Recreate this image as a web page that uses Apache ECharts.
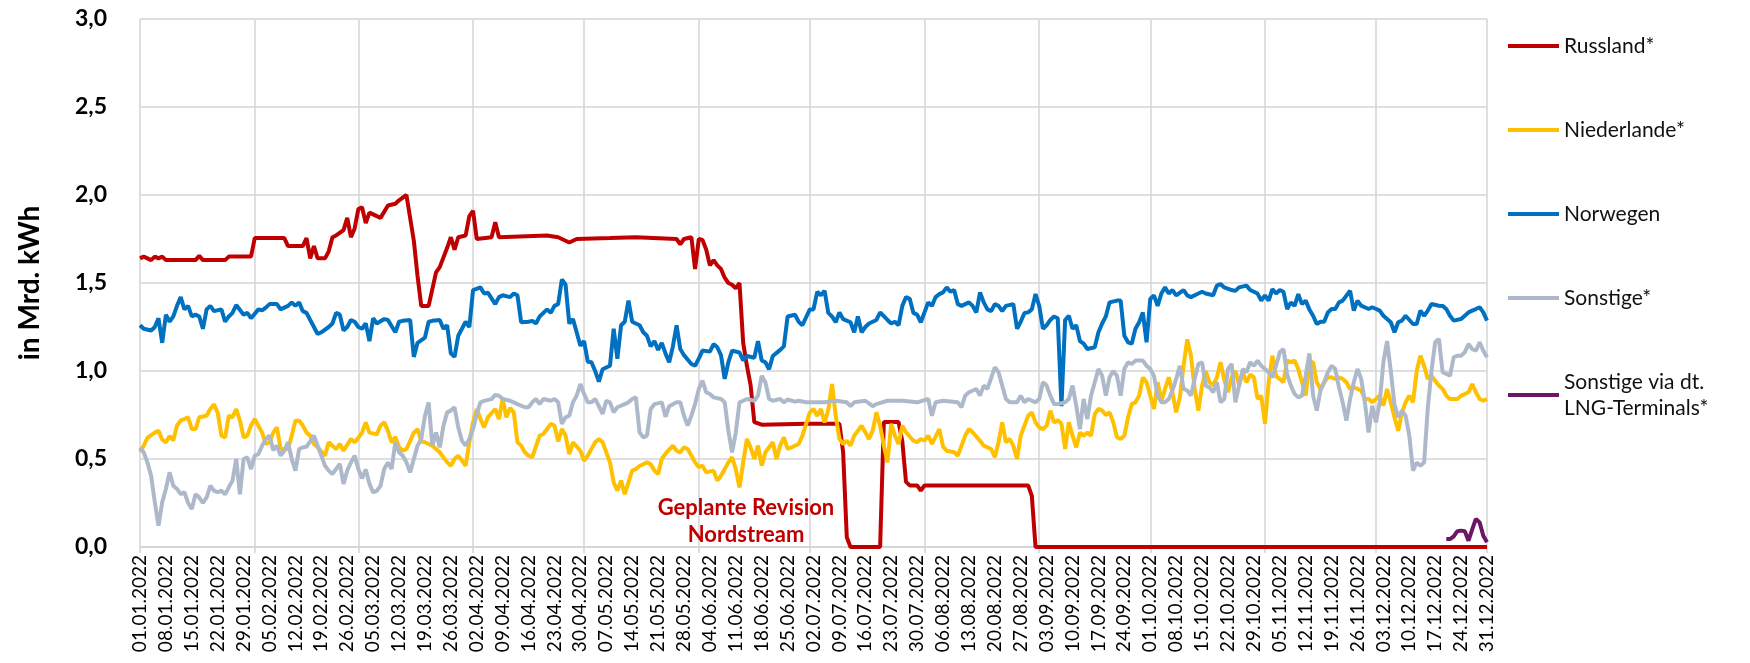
<!DOCTYPE html>
<html>
<head>
<meta charset="utf-8">
<script src="https://cdn.jsdelivr.net/npm/echarts@6/dist/echarts.min.js"></script>
<style>
  html, body { margin: 0; padding: 0; background: #fff; }
  #chart { width: 1750px; height: 663px; }
</style>
</head>
<body>
<div id="chart"></div>
<script>
// daily imports 2022, [dayIndex, value] in Mrd. kWh
var russland = [[0,1.64],[1,1.65],[3,1.63],[4,1.65],[5,1.64],[6,1.65],[7,1.63],[15,1.63],[16,1.655],[17,1.63],[23,1.63],[24,1.65],[30,1.65],[31,1.755],[39,1.755],[40,1.71],[44,1.71],[45,1.755],[46,1.64],[47,1.71],[48,1.64],[50,1.64],[51,1.68],[52,1.76],[53,1.77],[55,1.8],[56,1.87],[57,1.76],[58,1.81],[59,1.92],[60,1.93],[61,1.84],[62,1.9],[64,1.88],[65,1.87],[67,1.94],[69,1.95],[70,1.97],[72,2.0],[74,1.74],[75,1.54],[76,1.37],[78,1.37],[80,1.56],[81,1.59],[83,1.70],[84,1.76],[85,1.69],[86,1.76],[88,1.77],[89,1.88],[90,1.91],[91,1.75],[95,1.76],[96,1.845],[97,1.76],[110,1.77],[113,1.76],[116,1.73],[118,1.75],[127,1.755],[134,1.76],[145,1.75],[146,1.72],[147,1.75],[149,1.76],[150,1.58],[151,1.75],[152,1.745],[153,1.69],[154,1.60],[155,1.63],[156,1.60],[157,1.58],[158,1.53],[159,1.50],[160,1.49],[161,1.47],[162,1.50],[163,1.16],[164,1.03],[165,0.92],[166,0.71],[168,0.695],[180,0.70],[189,0.70],[190,0.54],[191,0.055],[192,0],[200,0],[201,0.71],[205,0.71],[206,0.60],[207,0.37],[208,0.35],[210,0.35],[211,0.32],[212,0.35],[240,0.35],[241,0.29],[242,0],[364,0]];

var niederlande = [[0,0.54],[1,0.575],[2,0.62],[3,0.635],[4,0.65],[5,0.66],[6,0.61],[7,0.595],[8,0.63],[9,0.605],[10,0.69],[11,0.72],[12,0.727],[13,0.737],[14,0.67],[15,0.67],[16,0.737],[18,0.746],[19,0.784],[20,0.81],[21,0.763],[22,0.633],[23,0.623],[24,0.746],[25,0.737],[26,0.784],[27,0.72],[28,0.623],[29,0.633],[30,0.69],[31,0.727],[33,0.65],[34,0.585],[35,0.595],[36,0.65],[37,0.68],[38,0.557],[40,0.557],[41,0.633],[42,0.718],[43,0.718],[44,0.69],[45,0.65],[46,0.633],[47,0.585],[48,0.566],[50,0.519],[51,0.595],[52,0.575],[53,0.557],[54,0.585],[55,0.547],[57,0.614],[58,0.595],[59,0.62],[60,0.65],[61,0.708],[62,0.65],[64,0.64],[65,0.69],[66,0.708],[67,0.66],[68,0.595],[69,0.625],[70,0.567],[71,0.547],[72,0.557],[74,0.65],[75,0.67],[76,0.60],[77,0.595],[79,0.575],[80,0.557],[81,0.538],[83,0.481],[84,0.462],[85,0.50],[86,0.519],[88,0.462],[89,0.595],[90,0.708],[91,0.784],[92,0.727],[93,0.68],[94,0.737],[96,0.784],[97,0.727],[98,0.841],[99,0.737],[100,0.79],[101,0.765],[102,0.595],[103,0.576],[104,0.538],[105,0.519],[106,0.51],[108,0.633],[109,0.642],[111,0.70],[112,0.69],[113,0.60],[114,0.67],[115,0.633],[116,0.528],[117,0.595],[119,0.547],[120,0.49],[121,0.519],[123,0.595],[124,0.614],[125,0.595],[127,0.481],[128,0.367],[129,0.32],[130,0.377],[131,0.30],[132,0.367],[133,0.434],[134,0.443],[135,0.46],[136,0.47],[137,0.481],[138,0.47],[139,0.434],[140,0.415],[141,0.50],[142,0.53],[144,0.576],[145,0.547],[146,0.538],[147,0.566],[148,0.557],[150,0.481],[151,0.453],[152,0.462],[153,0.424],[155,0.434],[156,0.377],[157,0.405],[159,0.481],[160,0.51],[161,0.443],[162,0.339],[163,0.481],[164,0.614],[165,0.566],[166,0.50],[167,0.576],[168,0.462],[169,0.538],[171,0.595],[172,0.50],[173,0.576],[174,0.623],[175,0.557],[176,0.566],[178,0.585],[179,0.633],[181,0.765],[182,0.784],[183,0.746],[184,0.784],[185,0.708],[186,0.78],[187,0.926],[188,0.746],[189,0.614],[190,0.585],[191,0.604],[192,0.576],[193,0.633],[195,0.689],[196,0.652],[197,0.614],[198,0.661],[199,0.765],[200,0.689],[201,0.576],[202,0.481],[203,0.70],[204,0.633],[205,0.585],[206,0.689],[207,0.652],[209,0.604],[210,0.595],[211,0.614],[212,0.604],[213,0.633],[214,0.585],[216,0.67],[217,0.57],[218,0.547],[220,0.538],[221,0.519],[223,0.633],[224,0.67],[225,0.652],[227,0.604],[228,0.576],[230,0.557],[231,0.51],[232,0.595],[233,0.708],[234,0.595],[235,0.614],[236,0.576],[237,0.50],[238,0.633],[240,0.746],[241,0.765],[242,0.708],[243,0.68],[244,0.67],[245,0.689],[246,0.775],[247,0.708],[248,0.72],[249,0.70],[250,0.557],[251,0.708],[252,0.633],[253,0.566],[254,0.65],[255,0.633],[256,0.65],[257,0.633],[258,0.755],[259,0.785],[260,0.775],[261,0.75],[262,0.765],[263,0.708],[264,0.623],[265,0.614],[266,0.633],[267,0.737],[268,0.812],[269,0.822],[270,0.86],[271,0.964],[272,0.936],[273,0.86],[274,0.784],[275,0.936],[276,0.83],[277,0.898],[278,0.964],[279,0.879],[280,0.765],[281,0.85],[282,1.03],[283,1.18],[284,1.087],[285,0.90],[286,0.775],[287,0.917],[288,1.0],[289,0.936],[290,0.92],[291,0.964],[292,1.05],[293,0.95],[294,0.879],[295,0.964],[296,1.0],[297,0.92],[298,0.99],[299,0.936],[300,0.98],[301,0.964],[302,0.841],[303,0.86],[304,0.70],[305,0.936],[306,1.087],[307,0.97],[308,0.955],[309,0.936],[310,1.06],[311,1.05],[312,1.06],[313,1.011],[314,0.936],[315,0.86],[316,1.05],[317,1.05],[318,0.936],[319,0.898],[320,0.936],[321,0.964],[322,0.964],[323,0.955],[324,0.964],[325,0.955],[326,0.936],[327,0.898],[328,0.907],[329,0.898],[330,0.889],[331,0.841],[332,0.841],[333,0.822],[335,0.86],[336,0.803],[337,0.898],[338,0.822],[339,0.737],[340,0.66],[341,0.765],[342,0.822],[343,0.86],[344,0.822],[345,1.0],[346,1.087],[347,1.03],[348,0.955],[349,0.973],[350,0.945],[351,0.917],[352,0.898],[353,0.86],[354,0.841],[355,0.841],[356,0.841],[357,0.86],[358,0.869],[359,0.879],[360,0.926],[361,0.879],[362,0.841],[363,0.831],[364,0.841]];

var norwegen = [[0,1.26],[1,1.24],[3,1.23],[4,1.25],[5,1.30],[6,1.16],[7,1.32],[8,1.28],[9,1.31],[10,1.37],[11,1.42],[12,1.35],[13,1.37],[14,1.31],[15,1.32],[16,1.31],[17,1.24],[18,1.35],[19,1.37],[20,1.34],[22,1.35],[23,1.28],[24,1.31],[25,1.33],[26,1.375],[28,1.32],[29,1.33],[30,1.30],[32,1.35],[33,1.345],[34,1.36],[35,1.38],[37,1.38],[38,1.35],[40,1.37],[41,1.39],[42,1.37],[43,1.39],[44,1.34],[45,1.33],[46,1.29],[48,1.21],[49,1.22],[51,1.25],[52,1.27],[53,1.33],[54,1.32],[55,1.23],[56,1.25],[57,1.29],[58,1.28],[59,1.25],[60,1.24],[61,1.27],[62,1.17],[63,1.30],[64,1.27],[66,1.295],[67,1.29],[69,1.22],[70,1.28],[71,1.285],[73,1.29],[74,1.08],[75,1.16],[77,1.19],[78,1.28],[79,1.285],[81,1.29],[82,1.24],[83,1.26],[84,1.10],[85,1.08],[86,1.20],[87,1.24],[88,1.28],[89,1.25],[90,1.46],[92,1.475],[93,1.44],[94,1.445],[96,1.38],[97,1.42],[98,1.43],[100,1.42],[101,1.44],[102,1.43],[103,1.277],[105,1.28],[106,1.285],[107,1.27],[108,1.31],[110,1.35],[111,1.33],[112,1.37],[113,1.38],[114,1.52],[115,1.49],[116,1.27],[117,1.295],[119,1.144],[120,1.17],[121,1.053],[122,1.05],[123,1.0],[124,0.94],[125,1.01],[127,1.03],[128,1.24],[129,1.07],[130,1.26],[131,1.28],[132,1.40],[133,1.28],[134,1.27],[135,1.26],[136,1.22],[137,1.20],[138,1.14],[139,1.17],[140,1.12],[141,1.16],[142,1.10],[143,1.05],[144,1.14],[145,1.26],[146,1.125],[147,1.09],[149,1.04],[150,1.03],[151,1.07],[152,1.116],[154,1.11],[155,1.153],[156,1.135],[157,1.09],[158,0.955],[159,1.05],[160,1.116],[162,1.105],[163,1.06],[164,1.085],[166,1.075],[167,1.17],[168,1.06],[169,1.05],[170,1.01],[171,1.085],[173,1.12],[174,1.14],[175,1.31],[177,1.32],[178,1.28],[179,1.26],[181,1.35],[182,1.35],[183,1.45],[184,1.43],[185,1.456],[186,1.33],[187,1.31],[188,1.277],[189,1.333],[190,1.295],[192,1.277],[193,1.22],[194,1.31],[195,1.22],[196,1.25],[197,1.27],[199,1.29],[200,1.333],[202,1.29],[203,1.27],[204,1.28],[205,1.26],[206,1.37],[207,1.42],[208,1.41],[209,1.33],[210,1.32],[211,1.277],[213,1.39],[214,1.37],[215,1.42],[216,1.437],[217,1.447],[218,1.475],[219,1.45],[220,1.46],[221,1.38],[222,1.37],[224,1.39],[225,1.37],[226,1.333],[227,1.447],[228,1.39],[229,1.35],[230,1.34],[231,1.38],[232,1.37],[233,1.34],[234,1.37],[236,1.38],[237,1.24],[238,1.28],[239,1.33],[240,1.333],[241,1.35],[242,1.437],[243,1.37],[244,1.24],[245,1.26],[246,1.29],[247,1.31],[248,1.30],[249,0.80],[250,1.29],[251,1.314],[252,1.24],[253,1.26],[254,1.17],[255,1.155],[256,1.125],[258,1.135],[259,1.22],[260,1.27],[261,1.31],[262,1.39],[264,1.40],[265,1.40],[266,1.20],[267,1.163],[268,1.155],[269,1.24],[270,1.277],[271,1.333],[272,1.163],[273,1.409],[274,1.43],[275,1.37],[276,1.44],[277,1.475],[278,1.44],[279,1.46],[280,1.43],[282,1.46],[283,1.43],[284,1.42],[286,1.44],[287,1.45],[288,1.44],[290,1.43],[291,1.485],[292,1.494],[293,1.475],[295,1.46],[296,1.455],[297,1.475],[299,1.485],[300,1.46],[302,1.44],[303,1.40],[304,1.43],[305,1.40],[306,1.465],[307,1.44],[308,1.46],[309,1.45],[310,1.352],[311,1.39],[312,1.37],[313,1.437],[314,1.38],[315,1.40],[316,1.35],[317,1.314],[318,1.267],[319,1.28],[320,1.28],[321,1.333],[322,1.352],[323,1.352],[324,1.39],[325,1.40],[327,1.456],[328,1.343],[329,1.40],[330,1.371],[331,1.362],[332,1.352],[333,1.362],[335,1.343],[336,1.314],[337,1.295],[338,1.277],[339,1.22],[340,1.277],[341,1.286],[342,1.314],[344,1.267],[345,1.267],[346,1.343],[347,1.314],[348,1.343],[349,1.381],[351,1.371],[352,1.37],[353,1.352],[354,1.314],[355,1.286],[357,1.295],[358,1.314],[359,1.333],[360,1.343],[361,1.352],[362,1.362],[363,1.333],[364,1.286]];

var sonstige = [[0,0.566],[1,0.538],[2,0.481],[3,0.405],[4,0.254],[5,0.121],[6,0.254],[7,0.33],[8,0.424],[9,0.348],[10,0.33],[11,0.30],[12,0.311],[13,0.25],[14,0.216],[15,0.30],[16,0.282],[17,0.25],[18,0.282],[19,0.348],[20,0.32],[21,0.311],[22,0.32],[23,0.30],[24,0.339],[25,0.377],[26,0.50],[27,0.30],[28,0.50],[29,0.509],[30,0.443],[31,0.519],[32,0.528],[33,0.576],[34,0.614],[35,0.633],[36,0.55],[37,0.576],[38,0.519],[39,0.547],[40,0.595],[41,0.50],[42,0.434],[43,0.557],[44,0.566],[45,0.57],[46,0.60],[47,0.633],[48,0.576],[49,0.519],[50,0.462],[51,0.434],[52,0.415],[53,0.443],[54,0.472],[55,0.358],[56,0.434],[57,0.481],[58,0.519],[59,0.443],[60,0.39],[61,0.44],[62,0.36],[63,0.31],[64,0.32],[65,0.348],[66,0.443],[67,0.481],[68,0.443],[69,0.595],[70,0.538],[71,0.519],[72,0.481],[73,0.424],[74,0.50],[75,0.576],[76,0.614],[77,0.746],[78,0.822],[79,0.576],[80,0.65],[81,0.566],[82,0.689],[83,0.765],[84,0.775],[85,0.794],[86,0.68],[87,0.604],[88,0.576],[89,0.614],[90,0.67],[91,0.756],[92,0.822],[93,0.83],[95,0.84],[96,0.864],[97,0.86],[98,0.841],[100,0.831],[101,0.822],[102,0.812],[104,0.794],[105,0.794],[106,0.822],[107,0.841],[108,0.812],[109,0.841],[111,0.831],[112,0.841],[113,0.822],[114,0.70],[115,0.737],[116,0.746],[117,0.822],[118,0.86],[119,0.926],[120,0.87],[121,0.822],[122,0.822],[123,0.841],[124,0.80],[125,0.756],[126,0.83],[127,0.822],[128,0.765],[129,0.794],[131,0.812],[132,0.822],[133,0.841],[134,0.85],[135,0.65],[136,0.623],[137,0.633],[138,0.784],[139,0.812],[141,0.822],[142,0.74],[143,0.80],[145,0.822],[146,0.822],[147,0.746],[148,0.69],[149,0.746],[150,0.812],[151,0.898],[152,0.945],[153,0.879],[154,0.869],[155,0.85],[157,0.841],[158,0.822],[159,0.66],[160,0.538],[161,0.65],[162,0.822],[163,0.831],[164,0.841],[166,0.831],[167,0.86],[168,0.973],[169,0.936],[170,0.841],[171,0.831],[173,0.841],[174,0.822],[175,0.838],[177,0.826],[178,0.831],[180,0.822],[183,0.822],[185,0.822],[188,0.831],[191,0.822],[192,0.80],[193,0.822],[196,0.831],[198,0.80],[199,0.812],[202,0.831],[206,0.831],[210,0.822],[213,0.841],[214,0.746],[215,0.822],[217,0.831],[221,0.822],[222,0.794],[223,0.86],[224,0.879],[226,0.898],[227,0.86],[228,0.917],[229,0.898],[231,1.021],[232,0.993],[233,0.917],[234,0.841],[235,0.822],[237,0.822],[238,0.86],[239,0.822],[240,0.841],[242,0.822],[243,0.841],[244,0.936],[245,0.917],[246,0.86],[247,0.812],[248,0.812],[250,0.822],[251,0.841],[252,0.917],[253,0.803],[254,0.67],[255,0.841],[256,0.727],[257,0.86],[258,0.936],[259,1.011],[260,0.973],[261,0.86],[262,0.964],[263,1.0],[264,0.973],[265,0.86],[266,1.011],[267,1.05],[268,1.04],[269,1.059],[271,1.059],[272,1.03],[273,1.011],[274,0.973],[275,0.86],[276,0.822],[277,0.822],[278,0.841],[279,0.889],[280,0.955],[281,1.03],[282,0.898],[283,0.889],[284,0.86],[285,0.955],[286,1.04],[287,1.05],[288,0.917],[289,0.907],[290,0.879],[291,0.936],[292,0.822],[293,0.841],[294,1.011],[295,1.04],[296,0.822],[297,0.917],[298,1.011],[299,0.993],[300,1.05],[301,1.03],[302,1.059],[303,1.03],[304,1.011],[305,0.993],[306,0.964],[307,1.03],[308,1.106],[309,1.125],[310,0.98],[311,0.917],[312,0.87],[313,0.85],[314,0.86],[315,0.973],[316,1.10],[317,0.86],[318,0.775],[319,0.89],[320,0.936],[321,0.993],[322,1.03],[323,1.011],[324,0.907],[325,0.822],[326,0.718],[327,0.841],[328,0.936],[329,1.011],[330,0.955],[331,0.822],[332,0.65],[333,0.803],[334,0.708],[335,0.822],[336,1.05],[337,1.17],[338,1.0],[339,0.81],[340,0.737],[341,0.775],[342,0.746],[343,0.633],[344,0.434],[345,0.48],[346,0.462],[347,0.48],[348,0.79],[349,1.0],[350,1.163],[351,1.182],[352,0.993],[353,0.984],[354,0.973],[355,1.078],[356,1.087],[357,1.087],[358,1.106],[359,1.153],[360,1.125],[361,1.115],[362,1.163],[363,1.115],[364,1.078]];

var lng = [[353,0.045],[354,0.045],[355,0.06],[356,0.09],[357,0.093],[358,0.09],[359,0.036],[360,0.10],[361,0.16],[362,0.14],[363,0.064],[364,0.027]];

var seriesNames = ['Russland*', 'Niederlande*', 'Norwegen', 'Sonstige*', 'Sonstige via dt.\nLNG-Terminals*'];
var seriesColors = ['#C00000', '#FFC000', '#0070C0', '#ADB9CA', '#6E1568'];
var seriesData = [russland, niederlande, norwegen, sonstige, lng];

// month starts get a vertical grid line, plus the last day at the right edge
var monthStarts = [0, 31, 59, 90, 120, 151, 181, 212, 243, 273, 304, 334, 364];

var days = [];
for (var i = 0; i < 365; i++) {
  var d = new Date(Date.UTC(2022, 0, 1 + i));
  var dd = String(d.getUTCDate()).padStart(2, '0');
  var mm = String(d.getUTCMonth() + 1).padStart(2, '0');
  days.push(dd + '.' + mm + '.2022');
}

var chart = echarts.init(document.getElementById('chart'), null, { renderer: 'canvas' });

var isMonth = function (idx) { return monthStarts.indexOf(idx) >= 0; };

var option = {
  animation: false,
  backgroundColor: '#fff',
  grid: { left: 140, right: 263, top: 19, bottom: 116 },
  legend: {
    orient: 'vertical',
    left: 1503,
    top: 28,
    itemWidth: 51,
    itemHeight: 4,
    itemGap: 58,
    icon: 'rect',
    textStyle: { fontFamily: 'Lato', fontSize: 21, color: '#111', lineHeight: 26 },
    data: seriesNames
  },
  xAxis: {
    type: 'category',
    data: days,
    boundaryGap: false,
    axisLine: { lineStyle: { color: '#d4d4d4', width: 1.5 } },
    axisTick: { show: true, interval: isMonth, length: 6, lineStyle: { color: '#d4d4d4', width: 1.5 } },
    axisLabel: {
      interval: function (idx) { return idx % 7 === 0; },
      rotate: 90,
      margin: 8,
      fontFamily: 'Lato',
      fontSize: 19,
      color: '#000'
    },
    splitLine: { show: true, interval: isMonth, lineStyle: { color: '#d4d4d4', width: 1.5 } }
  },
  yAxis: {
    type: 'value',
    min: 0,
    max: 3,
    interval: 0.5,
    name: 'in Mrd. kWh',
    nameLocation: 'middle',
    nameRotate: 90,
    nameGap: 96,
    nameTextStyle: { fontFamily: 'Lato', fontWeight: 'bold', fontSize: 28, color: '#000' },
    axisLine: { show: false },
    axisTick: { show: false },
    axisLabel: {
      margin: 33,
      fontFamily: 'Lato',
      fontWeight: 'bold',
      fontSize: 23,
      color: '#000',
      formatter: function (v) { return v.toFixed(1).replace('.', ','); }
    },
    splitLine: { lineStyle: { color: '#d4d4d4', width: 1.5 } }
  },
  series: seriesNames.map(function (name, k) {
    return {
      name: name,
      type: 'line',
      data: seriesData[k],
      color: seriesColors[k],
      showSymbol: false,
      lineStyle: { width: 4, color: seriesColors[k] },
      z: 2 + k
    };
  }),
  graphic: [{
    type: 'text',
    x: 746,
    y: 521,
    z: 20,
    style: {
      text: 'Geplante Revision\nNordstream',
      align: 'center',
      verticalAlign: 'middle',
      fontFamily: 'Lato',
      fontWeight: 'bold',
      fontSize: 22,
      lineHeight: 27,
      fill: '#C00000'
    }
  }]
};

chart.setOption(option);
window.addEventListener('resize', chart.resize);
</script>
</body>
</html>
